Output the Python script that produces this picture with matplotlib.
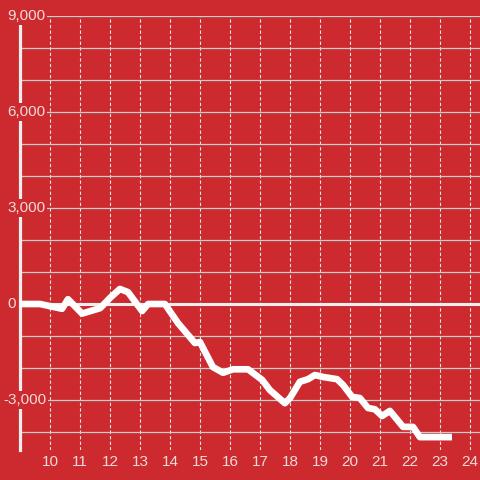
import matplotlib
matplotlib.use("Agg")
import matplotlib.pyplot as plt
from matplotlib.ticker import MultipleLocator

# hours of day and cumulative value
hours = [9.0, 9.67, 10.4, 10.6, 11.07, 11.67, 12.0, 12.33, 12.6, 13.07, 13.27,
         13.83, 14.27, 14.83, 15.0, 15.43, 15.77, 16.1, 16.6, 17.07, 17.33,
         17.83, 18.0, 18.33, 18.6, 18.83, 19.1, 19.57, 19.77, 20.07, 20.33,
         20.6, 20.83, 21.07, 21.33, 21.77, 22.1, 22.33, 23.4]
values = [0, 0, -150, 150, -300, -130, 190, 470, 370, -220, 0,
          0, -600, -1220, -1190, -1970, -2150, -2040, -2040, -2370, -2690,
          -3100, -2940, -2430, -2350, -2220, -2280, -2350, -2530, -2900, -2940,
          -3250, -3290, -3500, -3340, -3840, -3840, -4160, -4160]

x_ticks = list(range(10, 25))
y_labels = [9000, 6000, 3000, 0, -3000]

BG = "#cc2a2e"
TXT = "#f2dada"

fig = plt.figure(figsize=(4.8, 4.8), dpi=100, facecolor=BG)
ax = fig.add_axes([20 / 480, 30 / 480, 460 / 480, 434 / 480])
ax.set_facecolor(BG)

ax.set_xlim(9, 9 + 460 / 30)
ax.set_ylim(-4562.5, 9000)

ax.yaxis.set_major_locator(MultipleLocator(1000))
ax.set_xticks(x_ticks)
ax.grid(axis="y", color="#cccccc", lw=0.9, zorder=1)
ax.grid(axis="x", color="#e6e6e6", lw=0.8, linestyle=(0, (3, 2)), zorder=1)
ax.tick_params(axis="y", length=0, labelleft=False)
ax.tick_params(axis="x", length=0, pad=3.5, colors=TXT, labelsize=11)
for lbl in ax.get_xticklabels():
    lbl.set_fontfamily("Liberation Sans")

for side in ["top", "right", "bottom"]:
    ax.spines[side].set_visible(False)
ax.spines["left"].set_color("#eeeeee")
ax.spines["left"].set_linewidth(2.3)
ax.spines["left"].set_zorder(3)

ax.axhline(0, color="#eeeeee", lw=2.2, zorder=2)

ax.plot(hours, values, color="white", lw=4.8, solid_joinstyle="round",
        solid_capstyle="butt", zorder=4)

ytf = ax.get_yaxis_transform()
for v in y_labels:
    txt = f"{v:,}"
    x0 = (7 - 20) / 460 if v >= 0 else (3 - 20) / 460
    ax.text(x0, v, txt, transform=ytf, ha="left", va="center",
            fontsize=11, color=TXT, family="Liberation Sans", zorder=6,
            clip_on=False,
            bbox=dict(boxstyle="square,pad=0.12", facecolor=BG, edgecolor="none"))

fig.savefig("out.png", dpi=100, facecolor=BG)
